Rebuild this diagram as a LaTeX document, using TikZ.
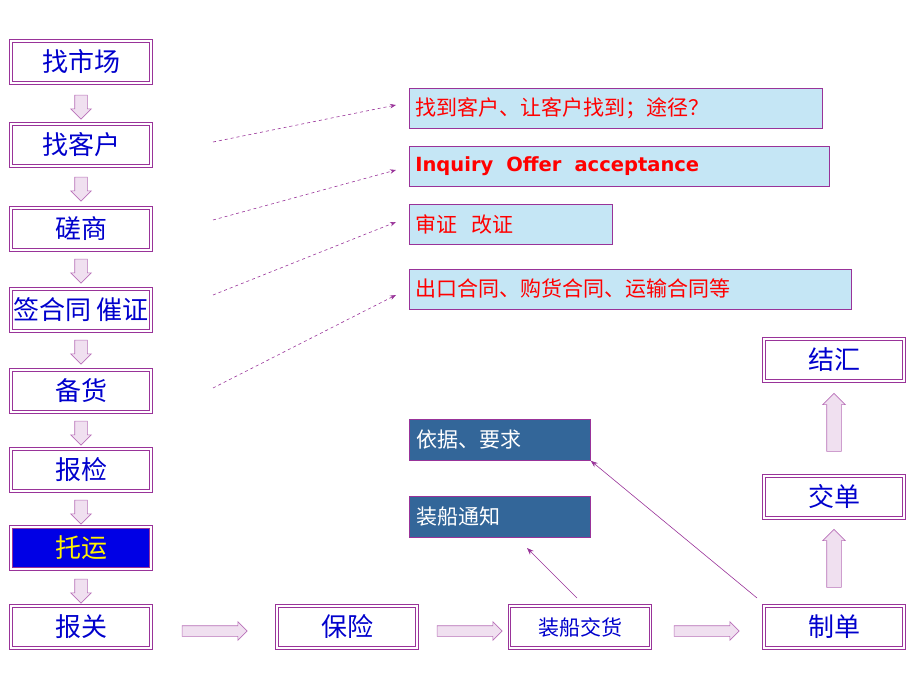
\documentclass[tikz,border=0pt]{standalone}
\usepackage{fontspec}
\setmainfont{Noto Sans CJK SC}
\newfontfamily\wide{DejaVu Sans}
\usetikzlibrary{shapes.arrows,arrows.meta}
\definecolor{boxline}{HTML}{993399}
\definecolor{infofill}{HTML}{C5E6F5}
\definecolor{notefill}{HTML}{336699}
\definecolor{arrowfill}{HTML}{F0E0F0}
\tikzset{
  step-box/.style={draw=boxline, line width=0.8pt, double=white, double distance=1.6pt,
    minimum width=140pt, minimum height=42pt, inner sep=0pt, font=\fontsize{26}{26}\selectfont, text=blue!80!black},
  info-box/.style={draw=boxline, line width=0.7pt, fill=infofill, minimum height=40pt,
    anchor=west, inner sep=0pt, font=\fontsize{21}{21}\selectfont, text=red},
  note-box/.style={draw=boxline, line width=0.5pt, fill=notefill, minimum width=181pt, minimum height=41pt,
    text=white, font=\fontsize{21}{21}\selectfont},
  hollow/.style={single arrow, draw=boxline!70, fill=arrowfill, line width=0.6pt,
    single arrow head extend=4pt, inner sep=6pt},
  down-arrow/.style={hollow, shape border rotate=270, minimum height=24pt},
  up-arrow/.style={hollow, shape border rotate=90, minimum height=58pt, inner sep=7pt},
  right-arrow/.style={hollow, minimum height=65pt, inner sep=5pt},
  hint/.style={draw=boxline, dashed, line width=0.6pt, -{Stealth[length=6pt]}},
  link/.style={draw=boxline, line width=0.6pt, -{Stealth[length=7pt]}}
}
\begin{document}
\begin{tikzpicture}[x=1pt,y=-1pt]
  \useasboundingbox (0,0) rectangle (920,690);
  % left column
  \node (market) at (81,62) [step-box] {找市场};
  \node (client) at (81,145) [step-box] {找客户};
  \node (talk) at (81,229) [step-box] {磋商};
  \node (sign) at (81,310) [step-box] {签合同 催证};
  \node (goods) at (81,391) [step-box] {备货};
  \node (check) at (81,470) [step-box] {报检};
  \node (ship) at (81,548) [step-box, fill=blue!90!black, text=yellow] {托运};
  \node (customs) at (81,627) [step-box] {报关};
  \foreach \y in {104,186,268,349,430,509,588}
    \node at (81,\y) [down-arrow] {};
  % info boxes
  \node (find) at (409,108) [info-box, minimum width=413pt, text width=401pt, align=left] {找到客户、让客户找到；途径？};
  \node (inquiry) at (409,166) [info-box, minimum width=420pt, text width=408pt, align=left, font=\fontsize{19.5}{20}\wide\bfseries] {Inquiry\ \ Offer\ \ acceptance};
  \node (lc) at (409,224) [info-box, minimum width=203pt, text width=191pt, align=left] {审证\ \ 改证};
  \node (deal) at (409,289) [info-box, minimum width=442pt, text width=430pt, align=left] {出口合同、购货合同、运输合同等};
  \coordinate (c1) at (213,142); \coordinate (c2) at (213,220);
  \coordinate (c3) at (213,295); \coordinate (c4) at (213,388);
  \coordinate (t1) at (396,105); \coordinate (t2) at (396,170);
  \coordinate (t3) at (396,222); \coordinate (t4) at (396,295);
  \draw [hint] (c1) -- (t1);
  \draw [hint] (c2) -- (t2);
  \draw [hint] (c3) -- (t3);
  \draw [hint] (c4) -- (t4);
  % bottom row
  \node (insure) at (347,627) [step-box] {保险};
  \node (load) at (580,627) [step-box, minimum width=141pt, font=\fontsize{21}{21}\selectfont] {装船交货};
  \node (docs) at (834,627) [step-box] {制单};
  \node (hand) at (834,497) [step-box] {交单};
  \node (settle) at (834,360) [step-box] {结汇};
  \node at (212,631) [right-arrow] {};
  \node at (467,631) [right-arrow] {};
  \node at (704,631) [right-arrow] {};
  \node at (834,562) [up-arrow] {};
  \node at (834,426) [up-arrow] {};
  % notes
  \node (basis) at (500,440) [note-box, text width=167pt, align=left] {依据、要求};
  \node (notice) at (500,517) [note-box, text width=167pt, align=left] {装船通知};
  \coordinate (d1) at (757,598); \coordinate (d2) at (577,598);
  \draw [link] (d1) -- (basis.south east);
  \draw [link] (d2) -- (527,548);
\end{tikzpicture}
\end{document}
